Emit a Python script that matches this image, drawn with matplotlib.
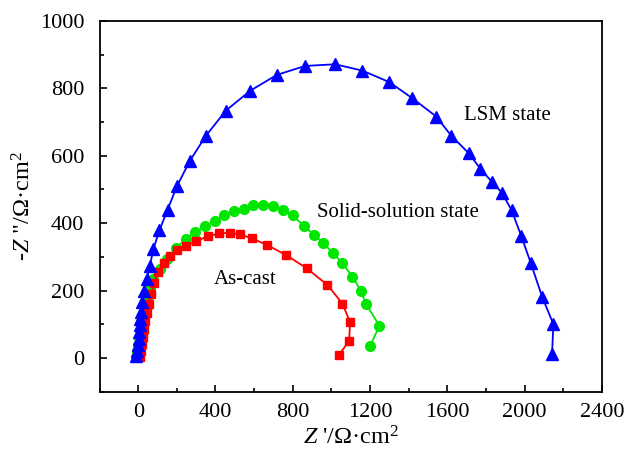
import matplotlib
matplotlib.use("Agg")
import matplotlib.pyplot as plt
from matplotlib.ticker import MultipleLocator

plt.rcParams['font.family'] = ['Liberation Serif', 'DejaVu Serif']
plt.rcParams['mathtext.fontset'] = 'custom'
plt.rcParams['mathtext.rm'] = 'Liberation Serif'
plt.rcParams['mathtext.it'] = 'Liberation Serif:italic'

# LSM state (blue triangles)
lsm_x = [-11.9, -6.7, -1.6, 3.6, 6.2, 8.8, 8.8, 12.4, 19.2, 29.5, 43.5, 60.6, 77.7,
         109.8, 152.3, 202, 267.8, 350.7, 452.7, 578.6, 717, 863.8, 1019.2, 1160.3,
         1300.2, 1417.8, 1542.1, 1619.8, 1709.4, 1770, 1832.2, 1882.5, 1932.1, 1982.4,
         2030.6, 2089.6, 2148.2, 2141.4]
lsm_y = [5.9, 20.7, 38.4, 56.2, 76.9, 97.5, 115.3, 136, 165.5, 198, 233.5, 272, 322,
         378.4, 440.4, 511.4, 585.3, 659.2, 733.1, 792.2, 839.5, 866.1, 871.1, 852.2,
         817.9, 770.6, 716.2, 659.2, 608, 561.6, 521.1, 489.8, 438.4, 361.5,
         282.9, 182.4, 100.5, 11.8]

# Solid-solution state (green circles)
ss_x = [-11.9, -6.7, -1.6, 3.6, 8.8, 16.6, 25.9, 36.3, 46.6, 60.6, 77.7, 112.4, 147.1,
        195.3, 247.1, 296.3, 345.5, 397.3, 446.5, 495.7, 546, 595.7, 647.5, 699.3, 748,
        799.8, 858.3, 911.2, 958.3, 1010.1, 1056.7, 1108.5, 1152, 1179.5, 1248.4, 1200.2]
ss_y = [3, 20.7, 38.4, 59.1, 82.8, 106.4, 125, 149.9, 174.4, 204, 235.6, 265.1, 292.6,
        327.2, 351.8, 372.5, 391.1, 405.9, 422.7, 436.6, 443.4, 452.9, 455.2, 450.2, 440.4,
        422.7, 391.1, 365.1, 339.9, 310.4, 280.8, 241.5, 198.9, 159.6, 95.5, 36.4]

# As-cast (red squares)
ac_x = [8.8, 14, 19.2, 24.4, 29.5, 37.3, 45.1, 55.4, 68.4, 83.9, 104.6, 133.1, 164.2,
        203.1, 249.7, 298.9, 360, 419.1, 475, 526.8, 587.4, 668.2, 765.1, 872.3, 979,
        1056.7, 1096.6, 1091.4, 1039.6]
ac_y = [3, 20.7, 41.4, 62.1, 85.7, 109.4, 133, 159.6, 189.2, 221.7, 254.2, 280.8, 301.5,
        319.2, 332, 346.7, 360.6, 369.5, 371.6, 366.5, 355.3, 334.9, 305.4, 266, 216.7,
        161.7, 105.5, 51.1, 9.8]

labels = ["LSM state", "Solid-solution state", "As-cast"]
label_pos = [(1910, 718), (1345, 432), (555, 234)]

fig = plt.figure(figsize=(6.3, 4.62), dpi=100)
ax = fig.add_axes([0.158, 0.152, 0.7976, 0.803])

ax.plot(ac_x, ac_y, color='#ff0000', marker='s', ms=6, lw=1.3, zorder=3)
ax.plot(ss_x, ss_y, color='#00e600', marker='o', ms=7, lw=1.3, zorder=2)
ax.plot(lsm_x, lsm_y, color='#0000ff', marker='^', ms=8, lw=1.3, zorder=4)

for t, (x, y) in zip(labels, label_pos):
    ax.text(x, y, t, fontsize=15, ha='center', va='center')

ax.set_xlim(-200, 2400)
ax.set_ylim(-100, 1000)
ax.xaxis.set_major_locator(MultipleLocator(400))
ax.xaxis.set_minor_locator(MultipleLocator(200))
ax.yaxis.set_major_locator(MultipleLocator(200))
ax.yaxis.set_minor_locator(MultipleLocator(100))
ax.tick_params(which='both', direction='in', top=False, right=False, width=1.2)
ax.tick_params(which='major', length=5, labelsize=16)
ax.tick_params(axis='x', which='major', pad=8)
ax.tick_params(axis='y', which='major', pad=11)
ax.tick_params(which='minor', length=3)
for s in ax.spines.values():
    s.set_linewidth(1.3)

ax.set_xlabel("$Z$ '/Ω·cm$^2$", fontsize=17.5, labelpad=3)
ax.set_ylabel('-$Z$ "/Ω·cm$^2$', fontsize=17.5, labelpad=3)

fig.savefig("out.png", dpi=100)
